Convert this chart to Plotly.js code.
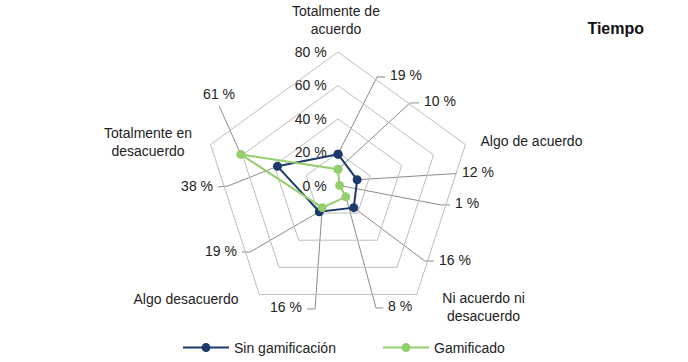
<!DOCTYPE html>
<html><head><meta charset="utf-8">
<script src="https://cdn.plot.ly/plotly-3.0.1.min.js"></script>
<style>html,body{margin:0;padding:0;background:#fff}</style>
</head><body><div id="chart" style="width:688px;height:362px"></div>
<script>
const categories = ["Totalmente de<br>acuerdo", "Algo de acuerdo", "Ni acuerdo ni<br>desacuerdo", "Algo desacuerdo", "Totalmente en<br>desacuerdo"];
const sinGamificacion = [19, 12, 16, 19, 38];
const gamificado = [10, 1, 8, 16, 61];
const radialTicks = [0, 20, 40, 60, 80];
const radialTickLabels = ["0 %", "20 %", "40 %", "60 %", "80 %"];
const seriesNames = ["Sin gamificación", "Gamificado"];
const chartTitle = "Tiempo";

// ---- layout / styling ----
const W = 688, H = 362;
const cx = 338, cyTop = 186, R = 134;
const rMax = 80;
const k = R / rMax; // px per radial unit
const colors = ["#1c3a6b", "#93cf6c"];
const gridColor = "#bdbdbd";
const leaderColor = "#8c8c8c";
const font = "Liberation Sans, Arial, Helvetica, sans-serif";
const fs = 14;

// value-label placement on an overlay in radial units (x right, y up, origin at centre)
// [elbow, end, textposition]
const labelPlacement = [
  [[[23.3, 65.1], [28.1, 65.1], "middle right"], [[66.9, 7.5], [71.0, 7.5], "middle right"], [[51.9, -44.8], [57.3, -44.8], "middle right"], [[-52.5, -39.4], [-57.3, -39.4], "middle left"], [[-65.7, 0], [-71.6, -0.6], "middle left"]],
  [[[43.0, 49.6], [48.4, 49.6], "middle right"], [[61.5, -11.3], [66.9, -11.3], "middle right"], [[22.7, -72.8], [26.9, -72.8], "middle right"], [[-13.7, -73.4], [-18.5, -73.4], "middle left"], [null, [-71.0, 47.8], "top center"]]
];
const textPad = 3;
// category label centres
const catPlacement = [[-1.2, 98.2], [115.5, 25.8], [86.9, -73.1], [-90.7, -68.1], [-113.4, 25.4]];

const step = 2 * Math.PI / categories.length;
const series = [sinGamificacion, gamificado];
const traces = [];

series.forEach((vals, s) => {
  const tx = [], ty = [];
  vals.forEach((v, i) => {
    const p = labelPlacement[s][i];
    const x = [v * Math.sin(i * step)], y = [v * Math.cos(i * step)];
    if (p[0]) { x.push(p[0][0]); y.push(p[0][1]); }
    x.push(p[1][0]); y.push(p[1][1]);
    traces.push({type: "scatter", x: x, y: y, mode: "lines",
      line: {color: leaderColor, width: 1}, showlegend: false, hoverinfo: "skip"});
    const pos = p[2];
    tx.push(p[1][0] + (pos === "middle right" ? textPad : pos === "middle left" ? -textPad : 0));
    ty.push(p[1][1] + (pos === "top center" ? textPad * 0.6 : 0));
  });
  traces.push({type: "scatter", mode: "text", cliponaxis: false, x: tx, y: ty,
    text: vals.map(v => v + " %"),
    textposition: labelPlacement[s].map(p => p[2]),
    textfont: {family: font, size: fs, color: "#222"},
    showlegend: false, hoverinfo: "skip"});
});
// category labels
traces.push({type: "scatter", mode: "text", cliponaxis: false,
  x: catPlacement.map(p => p[0]), y: catPlacement.map(p => p[1]),
  text: categories, textposition: "middle center",
  textfont: {family: font, size: fs, color: "#222"}, showlegend: false, hoverinfo: "skip"});

// data series on the category polar
series.forEach((vals, s) => {
  traces.push({type: "scatterpolar", name: seriesNames[s],
    r: vals.concat([vals[0]]), theta: categories.concat([categories[0]]),
    mode: "lines+markers", line: {color: colors[s], width: 2},
    marker: {color: colors[s], size: 9}, cliponaxis: false});
});

const layout = {
  width: W, height: H, margin: {l: 0, r: 0, t: 0, b: 0, pad: 0, autoexpand: false},
  paper_bgcolor: "#fff", plot_bgcolor: "rgba(0,0,0,0)",
  font: {family: font, size: fs, color: "#222"},
  title: {text: "<b>" + chartTitle + "</b>", x: 644 / W, xanchor: "right", xref: "paper",
    y: 1 - 28 / H, yanchor: "middle", yref: "container", font: {size: 16, color: "#111", family: font}},
  xaxis: {domain: [0, 1], range: [-cx / k, (W - cx) / k], visible: false, fixedrange: true},
  yaxis: {domain: [0, 1], range: [-(H - cyTop) / k, cyTop / k], visible: false, fixedrange: true},
  polar: {domain: {x: [(cx - R) / W, (cx + R) / W], y: [(H - cyTop - R) / H, (H - cyTop + R) / H]},
    bgcolor: "rgba(0,0,0,0)", gridshape: "linear",
    radialaxis: {range: [0, rMax], tickvals: radialTicks, ticktext: radialTickLabels, angle: 90, tickangle: 90,
      side: "counterclockwise", showline: false, ticks: "outside", ticklen: 6, tickcolor: "rgba(0,0,0,0)",
      gridcolor: gridColor, gridwidth: 1, tickfont: {size: fs, color: "#222"}, layer: "below traces"},
    angularaxis: {type: "category", direction: "clockwise", rotation: 90, showgrid: false,
      showline: true, linecolor: gridColor, linewidth: 1, ticks: "", showticklabels: false}},
  legend: {orientation: "h", x: 178 / W, xanchor: "left", y: (H - 348) / H, yanchor: "middle",
    entrywidth: 139, entrywidthmode: "pixels", itemwidth: 46, font: {size: fs, color: "#222"}},
  showlegend: true
};

Plotly.newPlot("chart", traces, layout, {displayModeBar: false, staticPlot: true});
</script></body></html>
